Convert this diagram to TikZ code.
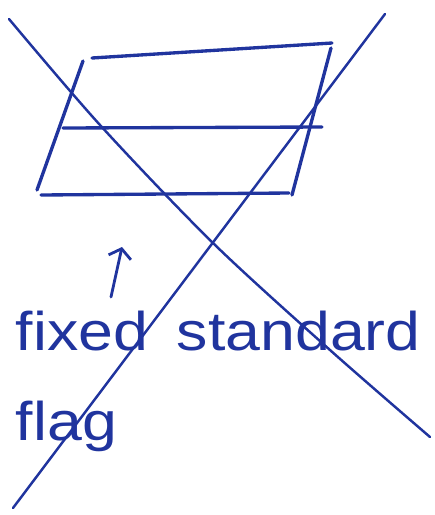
\documentclass[tikz,border=0pt]{standalone}
\usepackage{fontspec}
\setmainfont{Liberation Sans}
\usetikzlibrary{arrows.meta}
\definecolor{ink}{RGB}{32,52,158}
\begin{document}
\begin{tikzpicture}[x=0.02cm,y=-0.02cm,line width=1.9pt,
  stroke/.style={ink,line cap=round,line join=round},
  scrawl/.style={ink,anchor=base west,inner sep=0pt,xscale=1.15,font=\fontsize{31}{36}\selectfont}]

\useasboundingbox (0,0) rectangle (434,515);

% ---------------------------
% flag
% ---------------------------
\coordinate (TL) at (92,58);
\coordinate (TR) at (332,43);
\coordinate (BL) at (37,190);
\coordinate (BR) at (292,195);
\coordinate (ML) at (63,128);
\coordinate (MR) at (322,127);

\draw[stroke] (TL)--(TR);
\draw[stroke] (83,61)--(BL);
\draw[stroke] (41,195)--(289,193);
\draw[stroke] (331,48)--(BR);
\draw[stroke] (ML)--(MR);

% ---------------------------
% cross
% ---------------------------
\coordinate (X1) at (9,19);
\coordinate (X2) at (430,437);
\coordinate (X3) at (385,14);
\coordinate (X4) at (13,508);

\draw[stroke,line width=1.4pt] plot[smooth,tension=0.5] coordinates
  {(X1) (100,125) (213,243) (330,350) (X2)};
\draw[stroke,line width=1.4pt] (X3)--(X4);

% ---------------------------
% label
% ---------------------------
\coordinate (A0) at (111,297);
\coordinate (A1) at (122,247);
\draw[stroke,line width=1.6pt,-{Straight Barb[length=5pt,width=13pt]}] (A0)--(A1);

\node[scrawl] (fixed) at (14,350) {fixed\hspace{0.5cm}standard};
\node[scrawl] (flag)  at (14,440) {flag};

\end{tikzpicture}
\end{document}
